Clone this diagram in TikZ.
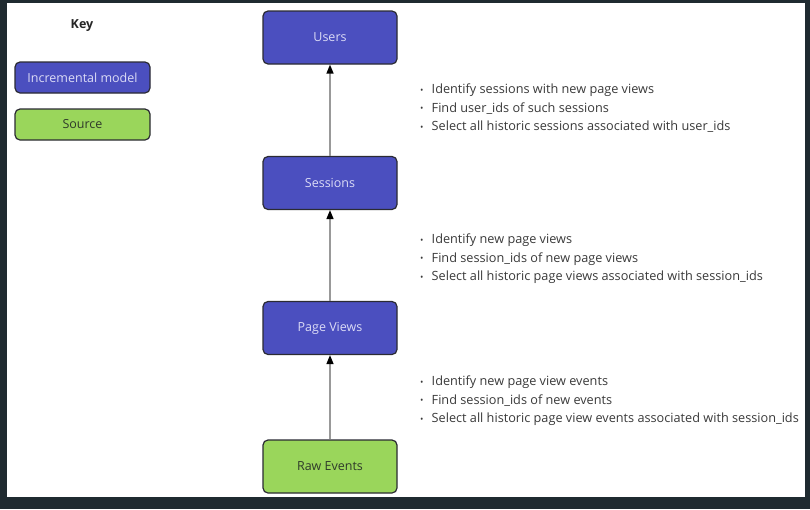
\documentclass[tikz,border=0pt]{standalone}
\usepackage{fontspec}
\setmainfont{Open Sans}
\usetikzlibrary{arrows.meta}
\definecolor{frame}{HTML}{1F2A30}
\definecolor{incblue}{HTML}{4B4FBF}
\definecolor{inctext}{HTML}{DCDCF6}
\definecolor{srcgreen}{HTML}{9AD65B}
\definecolor{srctext}{HTML}{2F3A2A}
\definecolor{boxline}{HTML}{2B2B33}
\definecolor{txt}{HTML}{3A3A3A}
\newcommand{\bul}{\makebox[11.5pt][l]{\raisebox{0.5pt}{\fontsize{9}{9}\selectfont •}}}
\tikzset{
  model/.style={draw=boxline, line width=1.2pt, rounded corners=5pt, fill=incblue, text=inctext, minimum width=134pt, minimum height=53pt, font=\fontsize{12.5}{14}\selectfont},
  src/.style={draw=boxline, line width=1.2pt, rounded corners=5pt, fill=srcgreen, text=srctext, minimum width=134pt, minimum height=53pt, font=\fontsize{12.5}{14}\selectfont},
  keybox/.style={minimum width=135pt, minimum height=31pt},
  flow/.style={draw=gray!80, line width=1.4pt, -{Triangle[length=9pt,width=7pt,fill=black,color=black]}},
  notes/.style={text=txt, anchor=north west, align=left, font=\fontsize{12.7}{18.5}\selectfont, inner sep=0pt}
}
\begin{document}
\begin{tikzpicture}[x=1pt,y=-1pt]
\fill[frame] (0,0) rectangle (810,509);
\fill[white] (7,3) rectangle (805,497);
\useasboundingbox (0,0) rectangle (810,509);
\node[font=\bfseries\fontsize{12.5}{14}\selectfont, text=black!85] (key) at (82,26) {Key};
\node[model, keybox] (kinc) at (82.5,77.5) {Incremental model};
\node[src, keybox] (ksrc) at (82.5,124.5) {Source};
\node[model] (users) at (330,37.5) {Users};
\node[model] (sessions) at (330,183) {Sessions};
\node[model] (pv) at (330,328) {Page Views};
\node[src] (raw) at (330,466.5) {Raw Events};
\draw[flow] (sessions.north) -- (users.south);
\draw[flow] (pv.north) -- (sessions.south);
\draw[flow] (raw.north) -- (pv.south);
\node[notes] (n1) at (420,84) {\bul Identify sessions with new page views\\ \bul Find user\_ids of such sessions\\ \bul Select all historic sessions associated with user\_ids};
\node[notes] (n2) at (420,234) {\bul Identify new page views\\ \bul Find session\_ids of new page views\\ \bul Select all historic page views associated with session\_ids};
\node[notes] (n3) at (420,376) {\bul Identify new page view events\\ \bul Find session\_ids of new events\\ \bul Select all historic page view events associated with session\_ids};
\end{tikzpicture}
\end{document}
